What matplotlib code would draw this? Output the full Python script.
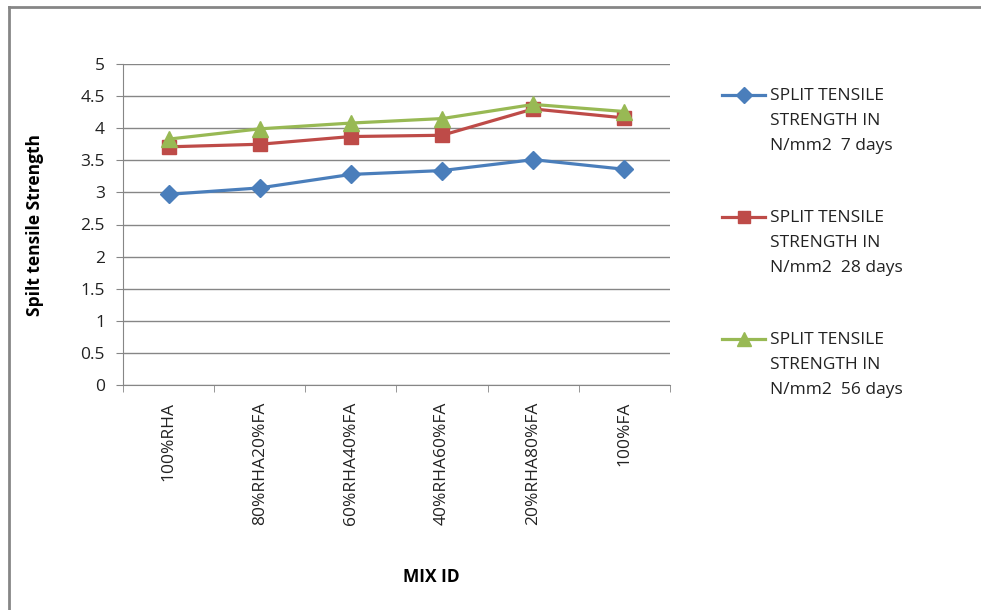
from matplotlib import pyplot as plt
from matplotlib.lines import Line2D

mixes = ['100%RHA', '80%RHA20%FA', '60%RHA40%FA', '40%RHA60%FA', '20%RHA80%FA', '100%FA']
days7 = [2.97, 3.07, 3.28, 3.34, 3.51, 3.36]
days28 = [3.71, 3.75, 3.87, 3.89, 4.30, 4.16]
days56 = [3.83, 3.99, 4.08, 4.15, 4.37, 4.26]
labels = ['SPLIT TENSILE\nSTRENGTH IN\nN/mm2  7 days',
          'SPLIT TENSILE\nSTRENGTH IN\nN/mm2  28 days',
          'SPLIT TENSILE\nSTRENGTH IN\nN/mm2  56 days']

plt.rcParams['font.family'] = ['Open Sans', 'DejaVu Sans']
W, H = 981, 610
fig = plt.figure(figsize=(W / 100, H / 100), dpi=100)
ax = fig.add_axes([123 / W, 1 - 385 / H, (670 - 123) / W, (385 - 64) / H])

grey = '#868686'
series = [(days7, '#4A7EBB', 'D', 9), (days28, '#BE4B48', 's', 10), (days56, '#98B954', '^', 11)]
x = list(range(len(mixes)))
for vals, col, mk, ms in series:
    ax.plot(x, vals, color=col, lw=2.3, marker=mk, ms=ms, mec=col, mfc=col, zorder=3)

ax.set_xlim(-0.5, len(mixes) - 0.5)
ax.set_ylim(0, 5)
ax.set_yticks([i * 0.5 for i in range(11)])
ax.set_yticklabels(['0', '0.5', '1', '1.5', '2', '2.5', '3', '3.5', '4', '4.5', '5'], fontsize=12.5, color='#222222')
ax.yaxis.grid(True, color=grey, lw=1)
ax.set_axisbelow(True)
ax.set_xticks(x)
ax.set_xticklabels(mixes, rotation=90, fontsize=12.5, color='#222222', va='top')
ax.tick_params(axis='x', length=0, pad=12)
ax.set_xticks([i - 0.5 for i in range(len(mixes) + 1)], minor=True)
ax.tick_params(axis='x', which='minor', length=5, color=grey)
ax.tick_params(axis='y', length=5, color=grey, pad=8)
for s in ['top', 'right']:
    ax.spines[s].set_visible(False)
ax.spines['left'].set_color(grey)
ax.spines['bottom'].set_color(grey)

ax.set_ylabel('Spilt tensile Strength', fontsize=12.5, fontweight='bold', labelpad=26)
fig.text(431 / W, 1 - 577 / H, 'MIX ID', fontsize=12.5, fontweight='bold', ha='center', va='center')

# legend
tops = [95, 217, 339]
for (vals, col, mk, ms), lab, ty in zip(series, labels, tops):
    fig.add_artist(Line2D([722 / W, 765 / W], [1 - ty / H] * 2, color=col, lw=2.3))
    fig.add_artist(Line2D([743.5 / W], [1 - ty / H], color=col, marker=mk, ms=ms - 1, mec=col, mfc=col))
    fig.text(770 / W, 1 - (ty - 7) / H, lab, fontsize=12.5, va='top', ha='left', color='#222222', linespacing=1.75)

# chart border
fig.add_artist(Line2D([8.5 / W, 1], [1 - 6.5 / H] * 2, color=grey, lw=2))
fig.add_artist(Line2D([8.5 / W] * 2, [0, 1 - 6.5 / H], color=grey, lw=2))

plt.savefig('out.png')
